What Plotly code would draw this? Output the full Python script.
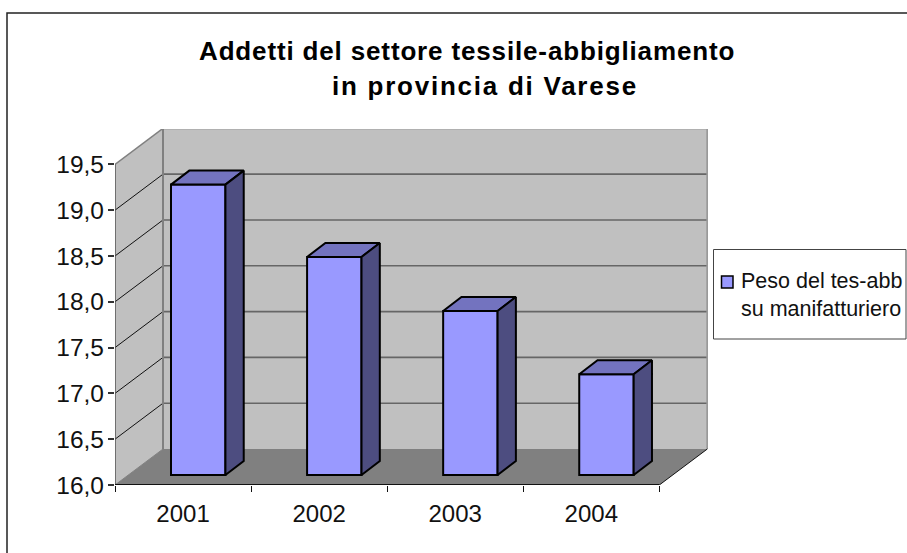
import plotly.graph_objects as go

years = ["2001", "2002", "2003", "2004"]
values = [19.17, 18.38, 17.79, 17.10]
y_ticks = [16.0, 16.5, 17.0, 17.5, 18.0, 18.5, 19.0, 19.5]
title_lines = ["Addetti del settore tessile-abbigliamento", "in provincia di Varese"]
series_name = "Peso del tes-abb<br>su manifatturiero"

W, H = 907, 553
FONT = "Liberation Sans"
# oblique depth of the floor in data units
DX, DY = 48 / 136.08, 36 / 91.6
Y0 = 16.0
Y_TOP = 19.886
X_END = 593 / 136.08
# bar placement
BAR_LEFT = 0.4115
BAR_W = 0.40
F_DX, F_DY = 13.4 / 136.08, 10 / 91.6
D_DX, D_DY = 18.3 / 136.08, 14 / 91.6
n = len(years)

def px(x): return x / W
def py(y): return 1 - y / H

fig = go.Figure()
shapes = []

def poly(pts, fill, color=None, width=0):
    path = "M " + " L ".join(f"{x},{y}" for x, y in pts) + " Z"
    shapes.append(dict(type="path", path=path, xref="x", yref="y", layer="below",
                       fillcolor=fill, line=dict(color=color or fill, width=width)))

def seg(x0, y0, x1, y1, color, width):
    shapes.append(dict(type="line", xref="x", yref="y", layer="below", x0=x0, y0=y0, x1=x1, y1=y1,
                       line=dict(color=color, width=width)))

top = y_ticks[-1]
# walls and floor
poly([(0, Y0), (DX, Y0 + DY), (DX, top + DY), (0, top)], "#C0C0C0")
poly([(DX, Y0 + DY), (DX + n, Y0 + DY), (DX + n, top + DY), (DX, top + DY)], "#C0C0C0")
poly([(0, Y0), (n, Y0), (n + DX, Y0 + DY), (DX, Y0 + DY)], "#808080")
# gridlines
for t in y_ticks[1:-1]:
    seg(DX, t + DY, DX + n, t + DY, "#666666", 1.6)
    seg(0, t, DX, t + DY, "#111111", 1)
# wall edges
seg(DX, top + DY, DX + n, top + DY, "#808080", 2)
seg(0, top, DX, top + DY, "#808080", 1.5)
seg(DX, Y0 + DY, DX, top + DY, "#808080", 2)
seg(DX + n, Y0 + DY, DX + n, top + DY, "#999999", 2)
seg(0, Y0, DX, Y0 + DY, "#808080", 1)
seg(n, Y0, n + DX, Y0 + DY, "#111111", 1)
seg(0, Y0, 0, top, "#555555", 1.5)
seg(0, Y0, n, Y0, "#111111", 2)

# outer chart frame (runs off the page at right and bottom)
shapes.append(dict(type="path", xref="paper", yref="paper", layer="above",
                   path=f"M {px(7)},{py(560)} L {px(7)},{py(13)} L {px(915)},{py(13)}",
                   line=dict(color="#222222", width=1.5)))
# legend box and swatch
shapes.append(dict(type="rect", xref="paper", yref="paper", layer="below",
                   x0=px(713.5), x1=px(906), y0=py(339), y1=py(249.5),
                   fillcolor="white", line=dict(color="#444444", width=1)))
shapes.append(dict(type="rect", xref="paper", yref="paper", layer="above",
                   x0=px(721.5), x1=px(733), y0=py(288), y1=py(276),
                   fillcolor="#9999FF", line=dict(color="#000000", width=1.5)))

# bars: front faces
centers = [i + BAR_LEFT + BAR_W / 2 for i in range(n)]
fig.add_trace(go.Bar(
    x=centers, y=[v - Y0 for v in values], base=Y0 + F_DY, width=BAR_W,
    marker=dict(color="#9999FF", line=dict(color="#000000", width=2)),
    name=series_name, showlegend=False, hoverinfo="skip"))

# bars: top and side faces
for c, v in zip(centers, values):
    l, r = c - BAR_W / 2, c + BAR_W / 2
    b, t = Y0 + F_DY, v + F_DY
    fig.add_trace(go.Scatter(
        x=[l, r, r + D_DX, l + D_DX, l], y=[t, t, t + D_DY, t + D_DY, t],
        mode="lines", fill="toself", fillcolor="#7373BF",
        line=dict(color="#000000", width=2), showlegend=False, hoverinfo="skip"))
    fig.add_trace(go.Scatter(
        x=[r, r + D_DX, r + D_DX, r, r], y=[t, t + D_DY, b + D_DY, b, t],
        mode="lines", fill="toself", fillcolor="#4D4D80",
        line=dict(color="#000000", width=2), showlegend=False, hoverinfo="skip"))

fig.update_traces(cliponaxis=False)

annotations = [
    dict(text=f'<span style="letter-spacing:0.85px"><b>{title_lines[0]}</b></span>', x=px(467), y=py(51),
         xref="paper", yref="paper", showarrow=False, xanchor="center", yanchor="middle",
         font=dict(size=26, family=FONT, color="black")),
    dict(text=f'<span style="letter-spacing:1.75px"><b>{title_lines[1]}</b></span>', x=px(485), y=py(86),
         xref="paper", yref="paper", showarrow=False, xanchor="center", yanchor="middle",
         font=dict(size=26, family=FONT, color="black")),
    dict(text=series_name, x=px(740), y=py(295), xref="paper", yref="paper", showarrow=False,
         xanchor="left", yanchor="middle", align="left", borderpad=0,
         font=dict(size=21.5, family=FONT, color="#111111")),
]

fig.update_layout(
    template="none",
    width=W, height=H, margin=dict(l=0, r=0, t=0, b=0), autosize=False,
    paper_bgcolor="white", plot_bgcolor="rgba(0,0,0,0)", showlegend=False,
    separators=",.", font=dict(family=FONT, color="#111111", size=24),
    shapes=shapes, annotations=annotations, barmode="overlay",
    xaxis=dict(domain=[px(115), px(708)], range=[0, X_END], automargin=False, showgrid=False, zeroline=False,
               showline=False, tickmode="array", tickvals=[i + 0.5 for i in range(n)], ticktext=years,
               ticks="", ticklabelstandoff=12, tickfont=dict(size=24),
               minor=dict(tickmode="array", tickvals=list(range(n + 1)), ticks="outside",
                          ticklen=6, tickcolor="#111111", tickwidth=1, showgrid=False)),
    yaxis=dict(domain=[py(485), py(129)], range=[Y0, Y_TOP], automargin=False, showgrid=False, zeroline=False,
               showline=False, tickmode="array", tickvals=y_ticks, tickformat=".1f",
               ticks="", ticklabelstandoff=10, tickfont=dict(size=24.5),
               minor=dict(tickmode="array", tickvals=y_ticks, ticks="outside",
                          ticklen=6, tickcolor="#333333", tickwidth=1.5, showgrid=False)),
)

fig.write_html("out.html", config={"displayModeBar": False},
               post_script="document.body.style.margin='0';document.body.style.overflow='hidden';")
